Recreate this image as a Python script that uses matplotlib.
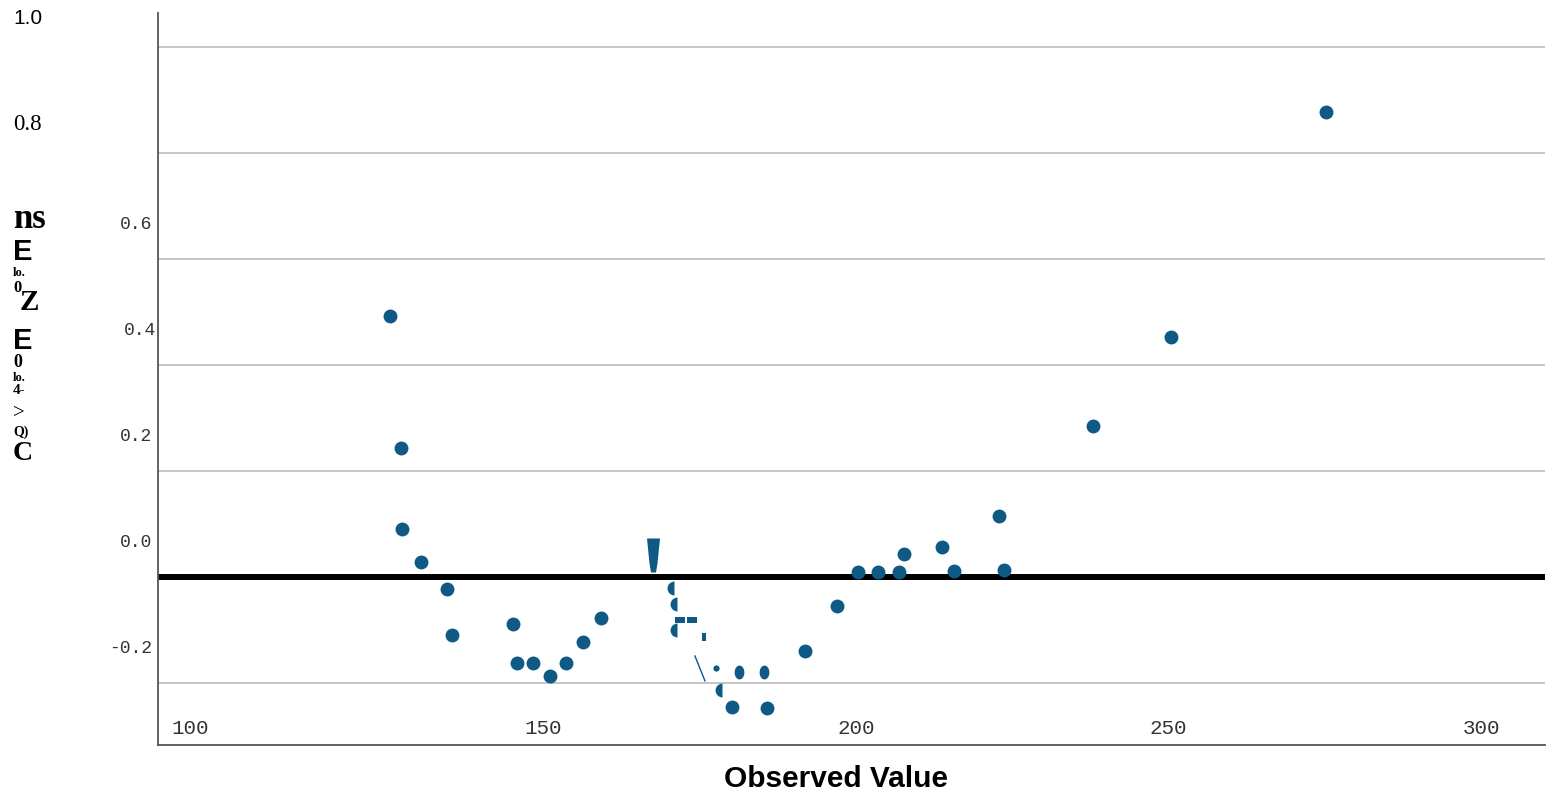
import numpy as np
import matplotlib
matplotlib.use("Agg")
import matplotlib.pyplot as plt

# main points of the detrended plot
obs = [125.4, 127.2, 127.4, 130.4, 134.6, 135.4, 145.1, 145.8, 148.3, 151.0,
       153.6, 156.3, 159.2, 191.8, 197.0, 200.3, 203.5, 206.9, 207.7, 213.8,
       215.7, 222.9, 223.7, 237.9, 250.4, 275.2, 180.2, 185.8]
dev = [0.492, 0.243, 0.091, 0.028, -0.023, -0.109, -0.089, -0.162, -0.162, -0.187,
       -0.162, -0.123, -0.077, -0.140, -0.055, 0.009, 0.009, 0.009, 0.043, 0.057,
       0.011, 0.115, 0.013, 0.285, 0.453, 0.877, -0.245, -0.247]

# broken / clipped marks in the middle of the reference
half_x = [170.9, 171.4, 171.4, 178.6]
half_y = [-0.021, -0.051, -0.100, -0.213]
oval_x = [181.3, 185.3]
oval_y = [-0.179, -0.179]
dash_x = [171.8, 173.8]
dash_y = [-0.081, -0.081]
bar_x, bar_y = [175.7], [-0.113]
tiny_x, tiny_y = [177.6], [-0.172]
drop_x, drop_y = [167.5], [0.042]
seg_x = [174.2, 175.8]
seg_y = [-0.149, -0.196]

xticks = [100, 150, 200, 250, 300]
yticks = [-0.2, 0.0, 0.2, 0.4, 0.6, 0.8, 1.0]
ytick_labels = ["-0.2", "0.0", "0.2", "0.4", "0.6", "0.8", "1.0"]

# garbled axis title pieces: text, y pixel, size, family, weight
ylab_parts = [
    ("ns", 220, 25, "Liberation Serif", "bold"),
    ("E", 252, 21, "Liberation Sans", "bold"),
    ("lo.", 273, 9, "Liberation Serif", "bold"),
    ("0", 288, 12, "Liberation Serif", "bold"),
    ("E", 341, 21, "Liberation Sans", "bold"),
    ("0", 363, 13, "Liberation Serif", "bold"),
    ("lo.", 378, 9, "Liberation Serif", "bold"),
    ("4-", 391, 11, "Liberation Serif", "bold"),
    (">", 413, 15, "Liberation Serif", "normal"),
    ("Q)", 432, 10, "Liberation Serif", "bold"),
    ("C", 453, 20, "Liberation Serif", "bold"),
]

blue = "#0e5a85"
W, H = 1548, 797
fig = plt.figure(figsize=(W / 100, H / 100), dpi=100)
ax = fig.add_axes([158 / W, 1 - 745 / H, 1387 / W, 732 / H])
ax.set_xlim(88.3, 310.2)
ax.set_ylim(-0.317, 1.064)

for v in yticks:
    if v == 0:
        continue
    ax.axhline(v, color="#c0c0c0", lw=1.3, zorder=1)
ax.axhline(0, color="black", lw=4.3, zorder=2)

ax.plot(obs, dev, "o", color=blue, ms=10, mew=0, zorder=3)
ax.plot(half_x, half_y, "o", color=blue, ms=10, mew=0, fillstyle="left",
        markerfacecoloralt="none", zorder=3)
t = np.linspace(0, 2 * np.pi, 40)
oval = list(zip(0.7 * np.cos(t), np.sin(t)))
ax.plot(oval_x, oval_y, ls="none", marker=oval, color=blue, ms=10, mew=0, zorder=3)
ax.plot(dash_x, dash_y, ls="none", marker=[(-5, -3), (5, -3), (5, 3), (-5, 3)],
        color=blue, ms=7.2, mew=0, zorder=3)
ax.plot(bar_x, bar_y, ls="none", marker=[(-2, -4), (2, -4), (2, 4), (-2, 4)],
        color=blue, ms=5.8, mew=0, zorder=3)
ax.plot(tiny_x, tiny_y, "o", color=blue, ms=4.5, mew=0, zorder=3)
drop = [(-6.5, 17), (6.5, 17), (4, -8), (2.5, -17), (-2.5, -17), (-4, -8)]
ax.plot(drop_x, drop_y, ls="none", marker=drop, color=blue, ms=24.5, mew=0, zorder=3)
ax.plot(seg_x, seg_y, color=blue, lw=1, zorder=3)

for s in ["top", "right"]:
    ax.spines[s].set_visible(False)
for s in ["left", "bottom"]:
    ax.spines[s].set_color("#555555")
    ax.spines[s].set_linewidth(1.3)
ax.set_xticks([])
ax.set_yticks([])

# y tick labels sit above their grid lines in the reference
for v, lab in zip(yticks, ytick_labels):
    if lab == "1.0":
        ax.annotate(lab, (0, v), xycoords=("axes fraction", "data"),
                    xytext=(-104, 20.5), textcoords="offset points",
                    ha="left", va="center", fontsize=15, family="Liberation Sans")
    elif lab == "0.8":
        ax.annotate(lab, (0, v), xycoords=("axes fraction", "data"),
                    xytext=(-104, 20.5), textcoords="offset points",
                    ha="left", va="center", fontsize=16.5, family="Liberation Serif")
    else:
        dx = -1.5 if lab == "0.4" else -4.3
        ax.annotate(lab, (0, v), xycoords=("axes fraction", "data"),
                    xytext=(dx, 24.5), textcoords="offset points",
                    ha="right", va="center", fontsize=13, family="Liberation Mono",
                    color="#333333")

for v in xticks:
    dx = -29.5 if v == 100 else 0
    ax.annotate(str(v), (v, 0), xycoords=("data", "axes fraction"),
                xytext=(dx, 12), textcoords="offset points",
                ha="center", va="center", fontsize=15, family="Liberation Mono",
                color="#333333")

for txt, py, size, fam, wt in ylab_parts:
    fig.text(13 / W, 1 - py / H, txt, ha="left", va="center", fontsize=size,
             family=fam, weight=wt)
fig.text(20 / W, 1 - 303 / H, "Z", ha="left", va="center", fontsize=21,
         family="Liberation Serif", weight="bold")

fig.text(836 / W, 1 - 779 / H, "Observed Value", ha="center", va="center",
         fontsize=21.5, family="Liberation Sans", weight="bold")

fig.savefig("out.png", dpi=100)
